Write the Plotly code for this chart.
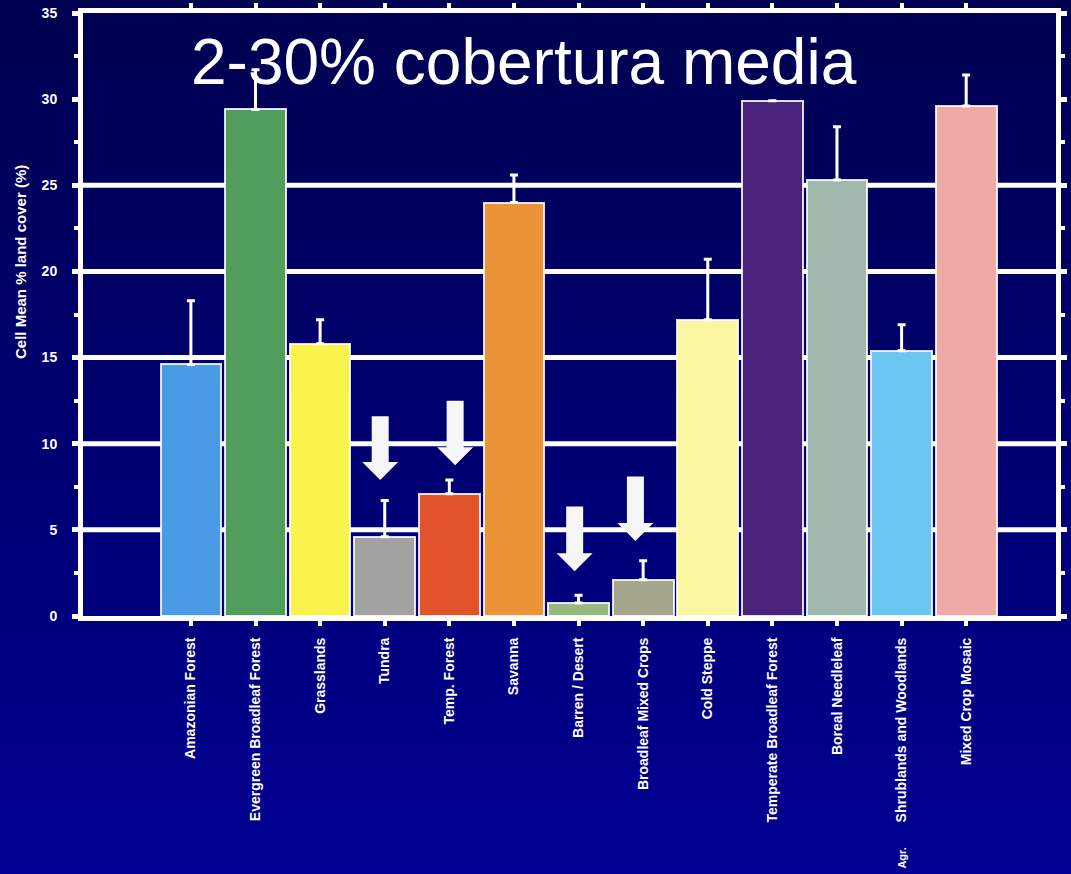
import plotly.graph_objects as go

# bar data
categories = [
    "Amazonian Forest", "Evergreen Broadleaf Forest", "Grasslands", "Tundra",
    "Temp. Forest", "Savanna", "Barren / Desert", "Broadleaf Mixed Crops",
    "Cold Steppe", "Temperate Broadleaf Forest", "Boreal Needleleaf",
    "Shrublands and Woodlands", "Mixed Crop Mosaic",
]
values = [14.6, 29.4, 15.8, 4.6, 7.1, 24.0, 0.75, 2.1, 17.2, 29.9, 25.3, 15.4, 29.6]
err_plus = [3.7, 2.3, 1.4, 2.1, 0.8, 1.6, 0.45, 1.1, 3.5, 0.0, 3.1, 1.5, 1.8]
colors = [
    "#4a9be6", "#519e5c", "#f9f34c", "#a2a2a2", "#e3532b", "#ea9339", "#98b97f",
    "#a4a68a", "#fbf6a2", "#4a227c", "#a1b9ad", "#6bc7f2", "#eeaaa4",
]
y_ticks = [0, 5, 10, 15, 20, 25, 30, 35]
grid_vals = [5, 10, 15, 20, 25]

# highlight arrows (x in category index, y tip / y top in axis units)
arrow_x = [2.93, 4.09, 5.94, 6.88]
arrow_tip = [7.9, 8.75, 2.6, 4.35]
arrow_top = [11.6, 12.5, 6.35, 8.1]

W, H = 1071, 874
ML, MR, MT, MB = 83, 15, 13, 258
pw, ph = W - ML - MR, H - MT - MB
x_range = [-1.67, 13.39]
y_range = [0, 35]
px_x = pw / (x_range[1] - x_range[0])
px_y = ph / (y_range[1] - y_range[0])

fig = go.Figure()
fig.add_trace(
    go.Bar(
        x=list(range(len(values))),
        y=values,
        width=0.94,
        marker=dict(color=colors, line=dict(color="rgba(255,255,255,0.85)", width=2)),
        error_y=dict(
            type="data",
            symmetric=False,
            array=err_plus,
            arrayminus=[0] * len(values),
            color="white",
            thickness=3,
            width=4,
        ),
        showlegend=False,
    )
)

# background gradient, dark navy at top to brighter blue at bottom
shapes = []
n_band = 40
y0_p = -(MB + 5) / ph
y1_p = (ph + MT + 5) / ph
x0_p = -(ML + 5) / pw
x1_p = (pw + MR + 5) / pw
for i in range(n_band):
    t = i / (n_band - 1)
    b = int(80 + (146 - 80) * t)
    ya = y1_p - (y1_p - y0_p) * i / n_band
    yb = y1_p - (y1_p - y0_p) * (i + 1) / n_band
    shapes.append(dict(
        type="rect", xref="paper", yref="paper", x0=x0_p, x1=x1_p,
        y0=yb - 0.002, y1=ya + 0.002, fillcolor="rgb(0,0,%d)" % b,
        line=dict(width=0), layer="below",
    ))

# white grid lines (none at 30 in the original)
for g in grid_vals:
    shapes.append(dict(type="line", xref="paper", yref="y", x0=0, x1=1, y0=g, y1=g,
                       line=dict(color="white", width=5), layer="below"))

# white down arrows
shaft_hw = 8.5 / px_x
head_hw = 18 / px_x
head_len = 18 / px_y
for ax_, tip, top in zip(arrow_x, arrow_tip, arrow_top):
    hb = tip + head_len
    path = (
        f"M {ax_ - shaft_hw} {top} L {ax_ + shaft_hw} {top} L {ax_ + shaft_hw} {hb} "
        f"L {ax_ + head_hw} {hb} L {ax_} {tip} L {ax_ - head_hw} {hb} "
        f"L {ax_ - shaft_hw} {hb} Z"
    )
    shapes.append(dict(type="path", xref="x", yref="y", path=path,
                       fillcolor="#f6f6f6", line=dict(width=0), layer="above"))

fig.update_layout(
    width=W,
    height=H,
    margin=dict(l=ML, r=MR, t=MT, b=MB, pad=0),
    paper_bgcolor="#000078",
    plot_bgcolor="rgba(0,0,0,0)",
    font=dict(family="Liberation Sans, Arial, sans-serif", color="white"),
    shapes=shapes,
    bargap=0,
    xaxis=dict(
        range=x_range,
        automargin=False,
        tickmode="array",
        tickvals=list(range(len(categories))),
        ticktext=categories,
        tickangle=-90,
        tickfont=dict(size=14, color="white", weight="bold"),
        showgrid=False,
        zeroline=False,
        showline=True,
        linecolor="white",
        linewidth=5,
        mirror="ticks",
        ticks="outside",
        ticklen=5,
        tickwidth=4,
        tickcolor="white",
        ticklabelstandoff=6,
    ),
    yaxis=dict(
        range=y_range,
        automargin=False,
        tickvals=y_ticks,
        tickfont=dict(size=14, color="white", weight="bold"),
        showgrid=False,
        zeroline=False,
        showline=True,
        linecolor="white",
        linewidth=5,
        mirror="ticks",
        ticks="outside",
        ticklen=6,
        tickwidth=5,
        tickcolor="white",
        ticklabelstandoff=12,
        minor=dict(ticks="outside", ticklen=4, tickwidth=4, tickcolor="white",
                   dtick=2.5, showgrid=False),
    ),
    annotations=[
        dict(
            text="2-30% cobertura media",
            xref="paper", yref="paper",
            x=(524 - ML) / pw, y=(ph + MT - 62) / ph,
            xanchor="center", yanchor="middle",
            showarrow=False,
            font=dict(size=64, color="white", family="Liberation Sans, Arial, sans-serif"),
        ),
        dict(
            text="Cell Mean % land cover (%)",
            xref="paper", yref="paper",
            x=(20 - ML) / pw, y=(ph + MT - 262) / ph,
            xanchor="center", yanchor="middle",
            textangle=-90,
            showarrow=False,
            font=dict(size=15, color="white", weight="bold"),
        ),
        dict(
            text="Agr.",
            xref="x", yref="paper",
            x=11, y=(ph + MT - 858) / ph,
            xanchor="center", yanchor="middle",
            textangle=-90,
            showarrow=False,
            font=dict(size=11, color="white", weight="bold"),
        ),
    ],
)

fig.write_html(
    "out.html",
    config={"displayModeBar": False},
    post_script="document.body.style.margin='0';document.body.style.overflow='hidden';",
)
